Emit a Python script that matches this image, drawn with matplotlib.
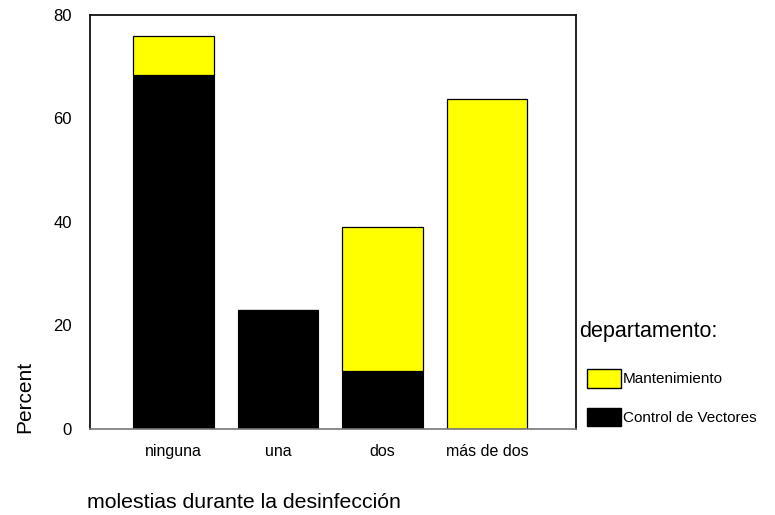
import matplotlib
matplotlib.use("Agg")
import matplotlib.pyplot as plt
from matplotlib.patches import Patch
import numpy as np

plt.rcParams['font.family'] = ['Liberation Sans', 'DejaVu Sans']

categories = ["ninguna", "una", "dos", "más de dos"]
control_vectores = [68.4, 22.9, 11.2, 0.0]
mantenimiento = [7.6, 0.0, 27.9, 63.8]
series_names = ["Mantenimiento", "Control de Vectores"]
yticks = [0, 20, 40, 60, 80]

YELLOW = "#FFFF00"
BLACK = "#000000"

fig = plt.figure(figsize=(7.75, 5.15), dpi=100)
ax = fig.add_axes([0.116, 0.167, 0.627, 0.804])

x = np.arange(len(categories))
w = 0.77
ax.bar(x, control_vectores, width=w, color=BLACK, edgecolor=BLACK, linewidth=0.8)
ax.bar(x, mantenimiento, width=w, bottom=control_vectores, color=YELLOW,
       edgecolor=BLACK, linewidth=0.9)

ax.set_xlim(-0.8, 3.85)
ax.set_ylim(0, 80)
ax.set_yticks(yticks)
ax.set_yticklabels([str(t) for t in yticks], fontsize=12)
ax.set_xticks(x)
ax.set_xticklabels(categories, fontsize=11.5)
ax.tick_params(axis='y', length=0, pad=13)
ax.tick_params(axis='x', length=0, pad=11)

for s in ['left', 'top', 'right']:
    ax.spines[s].set_color('#111111')
    ax.spines[s].set_linewidth(1.3)
ax.spines['bottom'].set_color('#777777')
ax.spines['bottom'].set_linewidth(1.2)

fig.text(25 / 775, 1 - 397 / 515, "Percent", rotation=90, fontsize=15,
         ha='center', va='center')
fig.text(87 / 775, 1 - 503 / 515, "molestias durante la desinfección",
         fontsize=15.3, ha='left', va='center')

fig.text(579 / 775, 1 - 331 / 515, "departamento:", fontsize=15.5,
         ha='left', va='center')

handles = [Patch(facecolor=YELLOW, edgecolor=BLACK, linewidth=1.0),
           Patch(facecolor=BLACK, edgecolor=BLACK, linewidth=1.0)]
leg = fig.legend(handles, series_names, loc='upper left',
                 bbox_to_anchor=(587 / 775, 1 - 369 / 515),
                 frameon=False, fontsize=11, handlelength=2.2,
                 handleheight=1.5, handletextpad=0.15, labelspacing=1.3,
                 borderaxespad=0, borderpad=0)

fig.savefig("out.png", dpi=100)
